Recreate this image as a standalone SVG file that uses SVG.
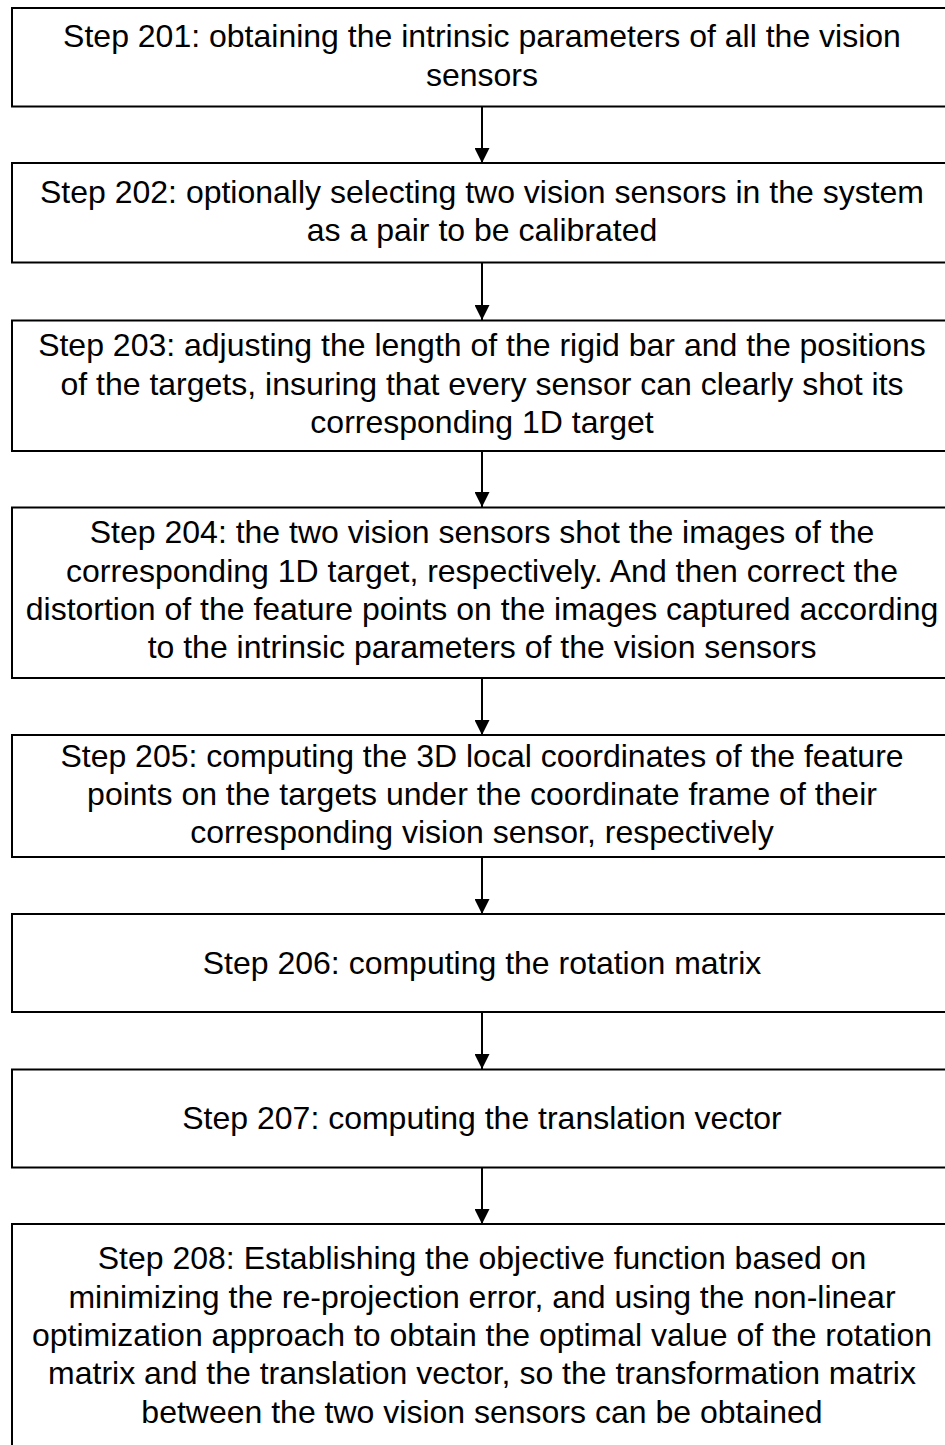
<svg xmlns="http://www.w3.org/2000/svg" width="945" height="1445" viewBox="0 0 945 1445">
<defs>
<marker id="ah" markerWidth="15" markerHeight="15" refX="15" refY="7.5" orient="auto" markerUnits="userSpaceOnUse">
<path d="M0,0 L15,7.5 L0,15 Z" fill="#000"/>
</marker>
<style>
.box{fill:#fff;stroke:#000;stroke-width:2}
.t{font-family:"Liberation Sans",Arial,sans-serif;font-size:32px;fill:#000;text-anchor:middle}
.c{stroke:#000;stroke-width:2;fill:none;marker-end:url(#ah)}
</style>
</defs>
<rect width="945" height="1445" fill="#fff"/>
<g id="connectors">
<line class="c" x1="482" y1="107" x2="482" y2="163"/>
<line class="c" x1="482" y1="263" x2="482" y2="320"/>
<line class="c" x1="482" y1="452" x2="482" y2="507"/>
<line class="c" x1="482" y1="679" x2="482" y2="735"/>
<line class="c" x1="482" y1="858" x2="482" y2="914"/>
<line class="c" x1="482" y1="1013" x2="482" y2="1069"/>
<line class="c" x1="482" y1="1168" x2="482" y2="1224"/>
</g>
<g id="step201">
<rect class="box" x="12" y="8" width="940" height="98.5"/>
<text class="t" x="482" y="47">Step 201: obtaining the intrinsic parameters of all the vision</text>
<text class="t" x="482" y="85.5">sensors</text>
</g>
<g id="step202">
<rect class="box" x="12" y="163" width="940" height="99.5"/>
<text class="t" x="482" y="202.5">Step 202: optionally selecting two vision sensors in the system</text>
<text class="t" x="482" y="241">as a pair to be calibrated</text>
</g>
<g id="step203">
<rect class="box" x="12" y="320.5" width="940" height="130.5"/>
<text class="t" x="482" y="356.3">Step 203: adjusting the length of the rigid bar and the positions</text>
<text class="t" x="482" y="394.7">of the targets, insuring that every sensor can clearly shot its</text>
<text class="t" x="482" y="433.1">corresponding 1D target</text>
</g>
<g id="step204">
<rect class="box" x="12" y="507.5" width="940" height="170.5"/>
<text class="t" x="482" y="543.3">Step 204: the two vision sensors shot the images of the</text>
<text class="t" x="482" y="581.7">corresponding 1D target, respectively. And then correct the</text>
<text class="t" x="482" y="620">distortion of the feature points on the images captured according</text>
<text class="t" x="482" y="658.3">to the intrinsic parameters of the vision sensors</text>
</g>
<g id="step205">
<rect class="box" x="12" y="735" width="940" height="122"/>
<text class="t" x="482" y="766.6">Step 205: computing the 3D local coordinates of the feature</text>
<text class="t" x="482" y="805">points on the targets under the coordinate frame of their</text>
<text class="t" x="482" y="843.4">corresponding vision sensor, respectively</text>
</g>
<g id="step206">
<rect class="box" x="12" y="914" width="940" height="98"/>
<text class="t" x="482" y="973.5">Step 206: computing the rotation matrix</text>
</g>
<g id="step207">
<rect class="box" x="12" y="1069.5" width="940" height="98"/>
<text class="t" x="482" y="1128.5">Step 207: computing the translation vector</text>
</g>
<g id="step208">
<rect class="box" x="12" y="1224" width="940" height="240"/>
<text class="t" x="482" y="1269.3">Step 208: Establishing the objective function based on</text>
<text class="t" x="482" y="1307.7">minimizing the re-projection error, and using the non-linear</text>
<text class="t" x="482" y="1346">optimization approach to obtain the optimal value of the rotation</text>
<text class="t" x="482" y="1384.4">matrix and the translation vector, so the transformation matrix</text>
<text class="t" x="482" y="1422.8">between the two vision sensors can be obtained</text>
</g>
</svg>
